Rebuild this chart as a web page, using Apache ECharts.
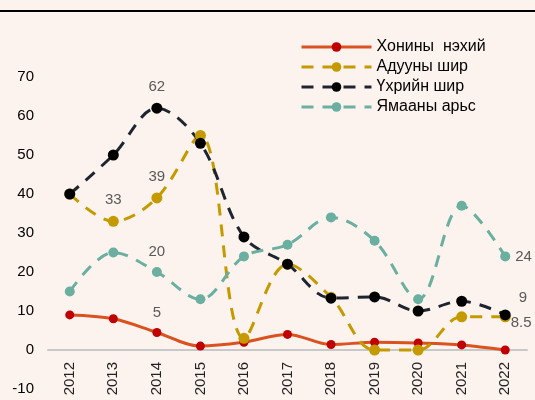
<!DOCTYPE html>
<html>
<head>
<meta charset="utf-8">
<script src="https://cdn.jsdelivr.net/npm/echarts@6/dist/echarts.min.js"></script>
<style>
  html, body { margin: 0; padding: 0; background: #fcf3ee; }
  #chart { width: 535px; height: 400px; }
</style>
</head>
<body>
<div id="chart"></div>
<script>
  const years = ['2012', '2013', '2014', '2015', '2016', '2017', '2018', '2019', '2020', '2021', '2022'];
  const sheepSkin = [9, 8, 4.5, 1, 2, 4, 1.4, 2, 1.8, 1.3, 0];
  const horseHide = [40, 33, 39, 55, 3, 22, 13.5, 0, 0, 8.5, 8.5];
  const cattleHide = [40, 50, 62, 53, 29, 22, 13.3, 13.6, 10, 12.5, 9];
  const goatSkin = [15, 25, 20, 13, 24, 27, 34, 28, 13, 37, 24];

  const chart = echarts.init(document.getElementById('chart'));

  // turn a value list into data items, with a few point labels switched on
  function withLabels(values, labels) {
    return values.map((value, index) => {
      if (!labels[index]) {
        return value;
      }
      return { value, label: Object.assign({ show: true }, labels[index]) };
    });
  }

  const labelStyle = { color: '#595959', fontSize: 15, fontFamily: 'Liberation Sans' };

  function lineSeries(name, values, color, markerColor, dashed, symbolSize, labels) {
    return {
      name,
      type: 'line',
      smooth: 0.35,
      data: withLabels(values, labels),
      symbol: 'circle',
      symbolSize,
      itemStyle: { color: markerColor },
      lineStyle: { color, width: 3, type: dashed ? [12, 9] : 'solid' },
      label: Object.assign({ show: false, position: 'top', distance: 8 }, labelStyle),
    };
  }

  chart.setOption({
    backgroundColor: '#fcf3ee',
    animation: false,
    graphic: [
      {
        type: 'rect',
        shape: { x: 0, y: 10, width: 535, height: 2 },
        style: { fill: '#000' },
      },
    ],
    legend: {
      orient: 'vertical',
      left: 295,
      top: 34,
      itemWidth: 70,
      itemHeight: 12,
      itemGap: 4,
      lineStyle: { width: 3 },
      textStyle: { color: '#000', fontSize: 16, fontFamily: 'Liberation Sans' },
    },
    grid: { left: 48, right: 8, top: 77, bottom: 11, outerBoundsMode: 'none' },
    xAxis: {
      type: 'category',
      data: years,
      axisLine: { show: true, onZero: true, lineStyle: { color: '#c8c8c8', width: 2 } },
      axisTick: { show: false },
      axisLabel: {
        rotate: 90,
        margin: -27,
        color: '#222',
        fontSize: 15,
        fontFamily: 'Liberation Sans',
      },
    },
    yAxis: {
      type: 'value',
      min: -10,
      max: 70,
      interval: 10,
      axisLine: { show: false },
      axisTick: { show: false },
      splitLine: { show: false },
      axisLabel: { margin: 14, color: '#000', fontSize: 15, fontFamily: 'Liberation Sans' },
    },
    series: [
      lineSeries('Хонины  нэхий', sheepSkin, '#d9521f', '#c00000', false, 9, {
        2: { position: 'top', formatter: (p) => String(Math.round(p.value)) },
      }),
      lineSeries('Адууны шир', horseHide, '#c49a00', '#c49a00', true, 11, {
        1: { position: 'top' },
        2: { position: 'top' },
        10: { position: 'right', offset: [-8, 6] },
      }),
      lineSeries('Үхрийн шир', cattleHide, '#1e2530', '#000000', true, 11, {
        2: { position: 'top' },
        10: { position: 'right', offset: [0, -17] },
      }),
      lineSeries('Ямааны арьс', goatSkin, '#6aafa0', '#6aafa0', true, 10, {
        2: { position: 'top' },
        10: { position: 'right', offset: [-3, 0] },
      }),
    ],
  });
</script>
</body>
</html>
